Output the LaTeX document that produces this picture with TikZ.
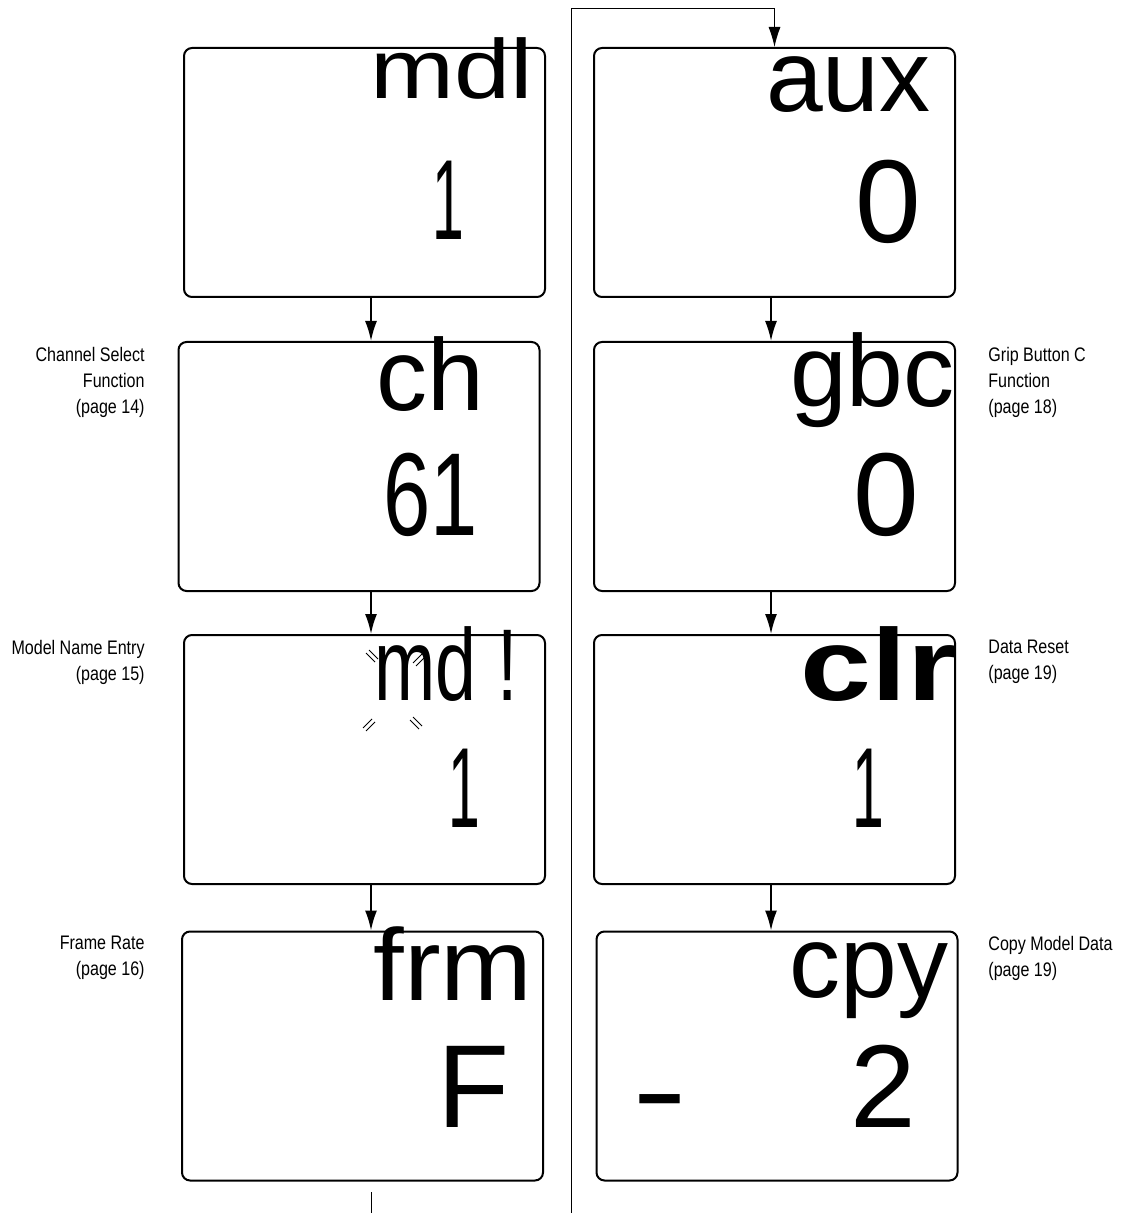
\documentclass[tikz,border=0pt]{standalone}
\usepackage{fontspec}
\setmainfont{Liberation Sans}
\newfontfamily\narrowfont[FakeStretch=0.82]{Liberation Sans}
\newfontfamily\condfont[FakeStretch=0.72]{Liberation Sans}
\usepackage{graphicx}
\usepackage{tikz}
\usetikzlibrary{arrows.meta,positioning}

\tikzset{
  lcdbox/.style={draw,line width=1pt,rounded corners=4pt,inner sep=0pt,
                 minimum width=180.5pt,minimum height=124.5pt},
  lcdname/.style={anchor=base east,inner sep=0pt,font=\fontsize{51}{51}\selectfont},
  lcdvalue/.style={anchor=base,inner sep=0pt,font=\fontsize{59}{59}\selectfont},
  pagenote/.style={inner sep=0pt,font=\narrowfont\fontsize{9.8}{13}\selectfont},
  flow/.style={line width=0.9pt,-{Latex[length=10pt,width=6pt]}},
  loopline/.style={line width=0.5pt},
}
\newcommand{\thinone}{\scalebox{0.5}[1]{1}}

\begin{document}
\begin{tikzpicture}[x=0.5pt,y=-0.5pt]
  \useasboundingbox (0,0) rectangle (1122,1213);
  % --- column guides ---
  \coordinate (lcol) at (371,0);
  \coordinate (rcol) at (771,0);

  % --- left column of screens ---
  \node[lcdbox] (mdl) at (364.5,172.5) {};
  \node[lcdbox] (ch)  at (359,466.5)   {};
  \node[lcdbox] (mdn) at (364.5,759.5) {};
  \node[lcdbox] (frm) at (362.5,1056)  {};
  % --- right column of screens ---
  \node[lcdbox] (aux) at (774.5,172.5) {};
  \node[lcdbox] (gbc) at (774.5,466.5) {};
  \node[lcdbox] (clr) at (774.5,759.5) {};
  \node[lcdbox] (cpy) at (777,1056)    {};

  % --- screen texts ---
  \node[lcdname,font=\fontsize{42}{42}\selectfont] (mdl-t) at (533,99) {\scalebox{1.2}[1]{mdl}};
  \node[lcdvalue,font=\fontsize{57}{57}\selectfont] (mdl-v) at (448,240) {\thinone};
  \node[lcdname] (ch-t)  at (485,410)  {ch};
  \node[lcdvalue,font=\condfont\fontsize{59}{59}\selectfont] (ch-v) at (431,535) {61};
  \node[lcdname,font=\condfont\fontsize{51}{51}\selectfont] (mdn-t) at (518,700) {md !};
  \node[lcdvalue,font=\fontsize{57}{57}\selectfont] (mdn-v) at (464,827) {\thinone};
  \node[lcdname] (frm-t) at (533,1000) {\scalebox{1.08}[1]{frm}};
  \node[lcdvalue] (frm-v) at (474,1127) {F};

  \node[lcdname] (aux-t) at (931,112)  {aux};
  \node[lcdvalue] (aux-v) at (888.5,243) {0};
  \node[lcdname] (gbc-t) at (955,407)  {gbc};
  \node[lcdvalue] (gbc-v) at (886.5,535) {0};
  \node[lcdname,font=\bfseries\fontsize{51}{51}\selectfont] (clr-t) at (957,700) {\scalebox{1.25}[1]{clr}};
  \node[lcdvalue,font=\fontsize{57}{57}\selectfont] (clr-v) at (868,827) {\thinone};
  \node[lcdname] (cpy-t) at (949,997)  {cpy};
  \node[lcdvalue] (cpy-v) at (883.5,1127) {2};
  \node[lcdvalue] (cpy-m) at (660,1130) {\scalebox{1.4}[1]{-}};

  % blink marks round the name letters
  \foreach \x/\y/\d in {366/653/1,413/663/-1,363/728/-1,410/720/1}{
    \draw[line width=0.45pt] (\x,\y) -- ++(9,{\d*9});
    \draw[line width=0.45pt] ({\x+3},{\y-3*\d}) -- ++(9,{\d*9});
  }

  % --- page notes ---
  \node[pagenote,anchor=north east,align=right] (n-ch)  at (145,347)
       {Channel Select\\Function\\(page 14)};
  \node[pagenote,anchor=north east,align=right] (n-mdn) at (145,640)
       {Model Name Entry\\(page 15)};
  \node[pagenote,anchor=north east,align=right] (n-frm) at (145,936)
       {Frame Rate\\(page 16)};
  \node[pagenote,anchor=north west,align=left] (n-gbc) at (988,347)
       {Grip Button C\\Function\\(page 18)};
  \node[pagenote,anchor=north west,align=left] (n-clr) at (988,640)
       {Data Reset\\(page 19)};
  \node[pagenote,anchor=north west,align=left] (n-cpy) at (988,936)
       {Copy Model Data\\(page 19)};

  % --- connectors ---
  \draw[flow] (mdl.south -| lcol) -- (ch.north -| lcol);
  \draw[flow] (ch.south -| lcol)  -- (mdn.north -| lcol);
  \draw[flow] (mdn.south -| lcol) -- (frm.north -| lcol);
  \draw[flow] (aux.south -| rcol) -- (gbc.north -| rcol);
  \draw[flow] (gbc.south -| rcol) -- (clr.north -| rcol);
  \draw[flow] (clr.south -| rcol) -- (cpy.north -| rcol);
  % continuation lines
  \coordinate (ltail) at (371,1192);
  \coordinate (lend)  at (371,1213);
  \draw[loopline] (ltail) -- (lend);
  \coordinate (loopbot) at (571,1213);
  \coordinate (looptop) at (571,9);
  \draw[loopline,-{Latex[length=10pt,width=6pt]}] (loopbot) -- (looptop) -| (aux.north);
\end{tikzpicture}
\end{document}
